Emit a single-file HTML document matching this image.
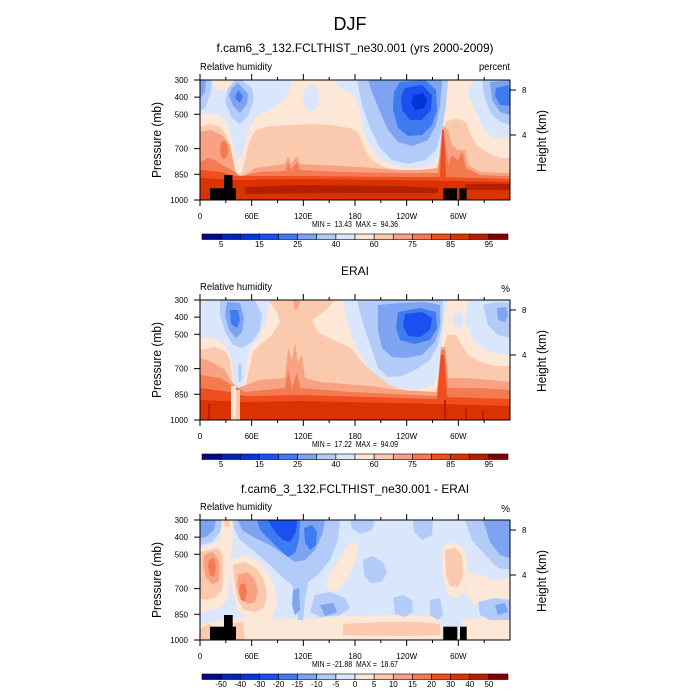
<!DOCTYPE html>
<html><head><meta charset="utf-8">
<style>
html,body{margin:0;padding:0;background:#fff;width:700px;height:700px;overflow:hidden}
svg{display:block}
text{font-family:"Liberation Sans",sans-serif;fill:#000}
</style></head>
<body>
<svg width="700" height="700" viewBox="0 0 700 700" xmlns="http://www.w3.org/2000/svg">
<defs>
<clipPath id="cp"><rect x="0" y="0" width="310" height="120"/></clipPath>
<g id="ax">
<rect x="0" y="0" width="310" height="120" fill="none" stroke="#000" stroke-width="1"/>
<path stroke="#000" stroke-width="1" fill="none" d="M0 120v6M51.67 120v6M103.33 120v6M155 120v6M206.67 120v6M258.33 120v6M25.83 120v3M77.5 120v3M129.17 120v3M180.83 120v3M232.5 120v3M284.17 120v3M0 0v-6M51.67 0v-6M103.33 0v-6M155 0v-6M206.67 0v-6M258.33 0v-6M25.83 0v-3M77.5 0v-3M129.17 0v-3M180.83 0v-3M232.5 0v-3M284.17 0v-3M0 0h-6M0 17.14h-6M0 34.29h-6M0 68.57h-6M0 94.29h-6M0 120h-6M310 10h6M310 55h6"/>
</g>
<g id="cb" stroke="#000" stroke-width="0.6">
<rect x="202" y="0" width="19.125" height="5.5" fill="#050a87"/>
<rect x="221.125" y="0" width="19.125" height="5.5" fill="#0026b5"/>
<rect x="240.25" y="0" width="19.125" height="5.5" fill="#0036d9"/>
<rect x="259.375" y="0" width="19.125" height="5.5" fill="#1c4ff0"/>
<rect x="278.5" y="0" width="19.125" height="5.5" fill="#3f7bf0"/>
<rect x="297.625" y="0" width="19.125" height="5.5" fill="#7ea3f1"/>
<rect x="316.75" y="0" width="19.125" height="5.5" fill="#b2cbf8"/>
<rect x="335.875" y="0" width="19.125" height="5.5" fill="#d9e6fb"/>
<rect x="355" y="0" width="19.125" height="5.5" fill="#fde7d6"/>
<rect x="374.125" y="0" width="19.125" height="5.5" fill="#fbc9ad"/>
<rect x="393.25" y="0" width="19.125" height="5.5" fill="#f8a283"/>
<rect x="412.375" y="0" width="19.125" height="5.5" fill="#f47a52"/>
<rect x="431.5" y="0" width="19.125" height="5.5" fill="#f04d20"/>
<rect x="450.625" y="0" width="19.125" height="5.5" fill="#db3300"/>
<rect x="469.75" y="0" width="19.125" height="5.5" fill="#b41f00"/>
<rect x="488.875" y="0" width="19.125" height="5.5" fill="#800000"/>
</g>
</defs>

<rect width="700" height="700" fill="#fff"/>

<text x="350" y="30" font-size="18" text-anchor="middle">DJF</text>

<!-- ================= PANEL 1 ================= -->
<text x="355" y="52" font-size="12" text-anchor="middle" textLength="277" lengthAdjust="spacingAndGlyphs">f.cam6_3_132.FCLTHIST_ne30.001 (yrs 2000-2009)</text>
<text x="200" y="70" font-size="10" textLength="72" lengthAdjust="spacingAndGlyphs">Relative humidity</text>
<text x="510" y="70" font-size="10" text-anchor="end" textLength="31" lengthAdjust="spacingAndGlyphs">percent</text>

<g transform="translate(200,80)">
<g clip-path="url(#cp)">
<rect x="0" y="0" width="310" height="120" fill="#fde7d6"/>
<polygon fill="#d9e6fb" points="0,0 92,0 88,14 80,24 68,30 57,36 50,45 46,60 42,76 38,80 35,75 32,60 28,45 22,37 12,33 0,34"/>
<ellipse cx="22" cy="2" rx="9" ry="9" fill="#fde7d6"/>
<ellipse cx="111" cy="18" rx="8" ry="13" fill="#d9e6fb"/>
<polygon fill="#d9e6fb" points="135,0 247,0 246,10 244,30 243,50 241,70 235,82 222,88 205,88 188,83 176,75 168,62 163,48 160,30 156,18 150,12 140,8"/>
<polygon fill="#d9e6fb" points="273,0 310,0 310,57 305,58 292,58 283,47 275,30 268,13"/>
<polygon fill="#fbc9ad" points="0,47 10,44 20,47 26,55 30,70 34,88 38,96 42,92 46,75 50,60 56,50 70,46 90,45 110,44 130,45 150,48 158,52 162,62 166,72 172,80 182,86 200,92 220,93 235,90 240,80 242,55 246,42 256,38 266,42 271,55 277,66 290,74 300,78 310,78 310,120 0,120"/>
<polygon fill="#f8a283" points="0,52 10,50 22,55 30,65 34,85 37,98 40,100 45,95 55,88 70,86 85,84 88,76 91,84 97,76 100,84 120,85 160,87 200,90 220,90 238,88 241,60 243,46 248,50 252,65 258,70 265,70 268,85 280,92 310,93 310,120 0,120"/>
<ellipse cx="24" cy="70" rx="4" ry="9" fill="#f47a52"/>
<polygon fill="#f47a52" points="0,82 8,78 15,80 22,85 28,88 35,92 40,96 60,92 86,91 88,82 91,90 97,82 100,90 140,92 200,93 238,93 242,60 245,60 248,85 252,75 258,80 262,72 266,88 280,95 310,96 310,120 0,120"/>
<polygon fill="#f04d20" points="0,90 20,92 35,96 50,96 100,96 200,97 240,97 242,50 244,50 246,97 310,99 310,120 0,120"/>
<polygon fill="#db3300" points="0,98 40,100 100,99 200,100 310,102 310,120 0,120"/>
<polygon fill="#b41f00" points="45,107 100,105 200,106 238,108 238,113 150,113 45,114"/>
<polygon fill="#b41f00" points="265,104 310,104 310,110 265,110"/>
<!-- blues -->
<polygon fill="#b2cbf8" points="0,0 12,0 10,15 5,28 0,30"/>
<polygon fill="#7ea3f1" points="0,0 6,0 5,12 0,18"/>
<polygon fill="#b2cbf8" points="38,-2 52,8 54,20 48,36 40,44 32,38 25,22 28,8"/>
<polygon fill="#7ea3f1" points="38,3 48,14 47,24 40,33 33,26 29,16 32,8"/>
<polygon fill="#3f7bf0" points="38,10 43,16 40,23 35,18"/>
<polygon fill="#b2cbf8" points="157,0 248,0 246,25 242,50 236,70 225,80 208,84 192,80 180,68 170,48 162,25"/>
<polygon fill="#7ea3f1" points="168,0 242,0 240,25 236,45 228,60 212,66 198,62 188,50 180,32 172,12"/>
<polygon fill="#3f7bf0" points="200,2 225,0 236,10 237,30 232,45 222,55 208,56 198,48 193,30 194,12"/>
<polygon fill="#1c4ff0" points="205,8 222,5 232,15 231,30 222,40 210,40 202,30 201,17"/>
<polygon fill="#0036d9" points="214,15 223,13 227,20 224,28 215,30 211,23"/>
<polygon fill="#b2cbf8" points="282,0 310,0 310,45 300,42 290,32 284,15"/>
<polygon fill="#7ea3f1" points="290,2 310,0 310,35 300,32 292,20"/>
<polygon fill="#3f7bf0" points="296,8 308,5 310,10 310,26 300,25 295,16"/>
</g>
<use href="#ax"/>
</g>
<!-- topography -->
<rect x="210" y="188.3" width="26" height="11.7" fill="#000"/>
<rect x="224" y="175" width="8.5" height="14" fill="#000"/>
<rect x="443.3" y="188.3" width="13.7" height="11.7" fill="#000"/>
<rect x="459.5" y="188.3" width="7.2" height="11.7" fill="#000"/>

<g font-size="8">
<text x="188" y="83" text-anchor="end">300</text>
<text x="188" y="100.1" text-anchor="end">400</text>
<text x="188" y="117.3" text-anchor="end">500</text>
<text x="188" y="151.6" text-anchor="end">700</text>
<text x="188" y="177.3" text-anchor="end">850</text>
<text x="188" y="203" text-anchor="end">1000</text>
<text x="522" y="93">8</text>
<text x="522" y="138">4</text>
<text x="200" y="219" text-anchor="middle">0</text>
<text x="251.7" y="219" text-anchor="middle">60E</text>
<text x="303.3" y="219" text-anchor="middle">120E</text>
<text x="355" y="219" text-anchor="middle">180</text>
<text x="406.7" y="219" text-anchor="middle">120W</text>
<text x="458.3" y="219" text-anchor="middle">60W</text>
<text x="355" y="227" text-anchor="middle" textLength="86" lengthAdjust="spacingAndGlyphs" xml:space="preserve">MIN =  13.43  MAX =  94.36</text>
<text x="221.1" y="247" text-anchor="middle">5</text>
<text x="259.4" y="247" text-anchor="middle">15</text>
<text x="297.6" y="247" text-anchor="middle">25</text>
<text x="335.9" y="247" text-anchor="middle">40</text>
<text x="374.1" y="247" text-anchor="middle">60</text>
<text x="412.4" y="247" text-anchor="middle">75</text>
<text x="450.6" y="247" text-anchor="middle">85</text>
<text x="488.9" y="247" text-anchor="middle">95</text>
</g>
<text transform="translate(161,140) rotate(-90)" font-size="13" text-anchor="middle" textLength="76" lengthAdjust="spacingAndGlyphs">Pressure (mb)</text>
<text transform="translate(546,141) rotate(-90)" font-size="13" text-anchor="middle" textLength="62" lengthAdjust="spacingAndGlyphs">Height (km)</text>
<use href="#cb" transform="translate(0,234)"/>

<!-- ================= PANEL 2 ================= -->
<text x="355" y="275" font-size="12" text-anchor="middle">ERAI</text>
<text x="200" y="290" font-size="10" textLength="72" lengthAdjust="spacingAndGlyphs">Relative humidity</text>
<text x="510" y="292" font-size="10" text-anchor="end">%</text>

<g transform="translate(200,300)">
<g clip-path="url(#cp)">
<rect x="0" y="0" width="310" height="120" fill="#fde7d6"/>
<polygon fill="#d9e6fb" points="0,0 70,0 68,10 65,25 57,40 50,48 47,60 45,75 42,88 38,92 35,85 33,70 30,55 25,45 18,40 8,37 0,38"/>
<polygon fill="#d9e6fb" points="143,0 247,0 244,20 242,40 240,67 233,85 217,90 193,87 177,77 163,60 153,40 147,20"/>
<ellipse cx="258" cy="20" rx="5" ry="8" fill="#d9e6fb"/>
<polygon fill="#d9e6fb" points="268,0 310,0 310,55 290,52 275,42 265,22"/>
<polygon fill="#fbc9ad" points="0,50 15,47 25,51 30,60 32,80 35,100 42,98 46,85 50,65 53,52 60,45 72,35 80,22 76,10 68,0 135,0 126,10 112,20 118,32 133,40 147,46 153,50 158,58 165,65 175,74 190,85 210,92 235,92 240,80 243,50 247,35 256,35 262,45 268,55 280,62 295,66 310,66 310,120 0,120"/>
<polygon fill="#f8a283" points="93,0 100,0 98,8 95,10"/>
<polygon fill="#f8a283" points="0,58 12,62 25,70 30,80 38,88 48,84 60,80 85,78 88,48 92,60 95,43 98,62 102,55 105,78 120,82 170,86 200,90 237,92 241,47 245,47 248,78 265,78 290,80 310,82 310,120 0,120"/>
<polygon fill="#f47a52" points="0,75 20,78 30,84 45,92 85,88 88,70 92,88 97,72 100,88 150,92 237,96 241,50 245,50 248,88 280,88 310,90 310,120 0,120"/>
<polygon fill="#f04d20" points="0,88 30,92 45,96 100,95 237,99 241,55 244,55 247,97 310,99 310,120 0,120"/>
<polygon fill="#db3300" points="0,100 45,102 100,101 240,104 310,106 310,120 0,120"/>
<rect x="8" y="104" width="2" height="16" fill="#b41f00"/>
<rect x="244" y="100" width="2" height="20" fill="#b41f00"/>
<rect x="265" y="108" width="2" height="12" fill="#b41f00"/>
<rect x="282" y="110" width="2" height="10" fill="#b41f00"/>
<rect x="31" y="86" width="5" height="34" fill="#fde7d6"/>
<rect x="36" y="90" width="4" height="30" fill="#fbc9ad"/>
<!-- blues -->
<polygon fill="#b2cbf8" points="20,0 55,0 62,15 60,30 52,42 42,48 33,45 25,32 20,15"/>
<polygon fill="#7ea3f1" points="27,2 40,3 44,18 42,32 36,38 29,30 25,15"/>
<polygon fill="#3f7bf0" points="30,10 38,10 40,20 37,28 31,24"/>
<polygon fill="#b2cbf8" points="38,65 41,64 42,80 39,82"/>
<polygon fill="#b2cbf8" points="157,0 243,0 242,25 238,45 230,60 215,70 202,76 188,77 178,68 172,50 165,30 160,12"/>
<polygon fill="#7ea3f1" points="178,5 200,3 225,2 240,5 240,25 235,42 222,55 205,58 192,57 182,48 178,30"/>
<polygon fill="#3f7bf0" points="198,12 220,8 236,12 237,28 230,40 215,44 200,40 196,28"/>
<polygon fill="#1c4ff0" points="205,14 222,12 232,18 230,30 220,37 208,36 203,26"/>
<polygon fill="#b2cbf8" points="283,5 295,2 310,3 310,38 298,35 288,25"/>
<polygon fill="#7ea3f1" points="297,8 306,7 308,15 305,22 298,20"/>
</g>
<use href="#ax"/>
</g>

<g font-size="8">
<text x="188" y="303" text-anchor="end">300</text>
<text x="188" y="320.1" text-anchor="end">400</text>
<text x="188" y="337.3" text-anchor="end">500</text>
<text x="188" y="371.6" text-anchor="end">700</text>
<text x="188" y="397.3" text-anchor="end">850</text>
<text x="188" y="423" text-anchor="end">1000</text>
<text x="522" y="313">8</text>
<text x="522" y="358">4</text>
<text x="200" y="439" text-anchor="middle">0</text>
<text x="251.7" y="439" text-anchor="middle">60E</text>
<text x="303.3" y="439" text-anchor="middle">120E</text>
<text x="355" y="439" text-anchor="middle">180</text>
<text x="406.7" y="439" text-anchor="middle">120W</text>
<text x="458.3" y="439" text-anchor="middle">60W</text>
<text x="355" y="447" text-anchor="middle" textLength="86" lengthAdjust="spacingAndGlyphs" xml:space="preserve">MIN =  17.22  MAX =  94.09</text>
<text x="221.1" y="467" text-anchor="middle">5</text>
<text x="259.4" y="467" text-anchor="middle">15</text>
<text x="297.6" y="467" text-anchor="middle">25</text>
<text x="335.9" y="467" text-anchor="middle">40</text>
<text x="374.1" y="467" text-anchor="middle">60</text>
<text x="412.4" y="467" text-anchor="middle">75</text>
<text x="450.6" y="467" text-anchor="middle">85</text>
<text x="488.9" y="467" text-anchor="middle">95</text>
</g>
<text transform="translate(161,360) rotate(-90)" font-size="13" text-anchor="middle" textLength="76" lengthAdjust="spacingAndGlyphs">Pressure (mb)</text>
<text transform="translate(546,361) rotate(-90)" font-size="13" text-anchor="middle" textLength="62" lengthAdjust="spacingAndGlyphs">Height (km)</text>
<use href="#cb" transform="translate(0,454)"/>

<!-- ================= PANEL 3 ================= -->
<text x="355" y="493" font-size="12" text-anchor="middle" textLength="228" lengthAdjust="spacingAndGlyphs">f.cam6_3_132.FCLTHIST_ne30.001 - ERAI</text>
<text x="200" y="510" font-size="10" textLength="72" lengthAdjust="spacingAndGlyphs">Relative humidity</text>
<text x="510" y="512" font-size="10" text-anchor="end">%</text>

<g transform="translate(200,520)">
<g clip-path="url(#cp)">
<rect x="0" y="0" width="310" height="120" fill="#d9e6fb"/>
<!-- peach -->
<polygon fill="#fde7d6" points="0,28 10,25 20,20 22,0 32,0 33,20 31,40 30,60 27,80 20,88 10,90 0,92"/>
<polygon fill="#fde7d6" points="30,40 45,35 60,42 70,55 76,70 77,85 72,98 60,100 45,98 38,90 33,75 31,60"/>
<polygon fill="#fde7d6" points="150,22 158,25 156,40 150,55 142,68 132,72 126,66 130,52 140,38"/>
<polygon fill="#fde7d6" points="243,25 255,22 265,30 268,50 265,70 258,78 248,75 244,60 242,42"/>
<polygon fill="#fde7d6" points="265,50 280,55 295,60 310,58 310,90 290,92 275,85 266,75"/>
<polygon fill="#fde7d6" points="0,105 20,100 40,98 80,99 120,98 150,96 200,95 240,97 243,120 0,120"/>
<polygon fill="#fde7d6" points="262,100 280,97 310,96 310,120 262,120"/>
<!-- salmon -->
<polygon fill="#fbc9ad" points="0,32 8,30 18,28 23,35 23,55 22,70 15,78 5,80 0,78"/>
<polygon fill="#fbc9ad" points="33,45 45,42 56,48 64,60 67,75 64,88 55,92 44,90 38,80 35,65"/>
<polygon fill="#fbc9ad" points="245,30 255,28 262,35 263,55 258,67 250,66 246,55"/>
<polygon fill="#fbc9ad" points="143,104 180,102 220,102 240,104 240,115 200,116 143,115"/>
<polygon fill="#fbc9ad" points="0,108 10,104 12,120 0,120"/>
<polygon fill="#fbc9ad" points="33,103 43,102 45,120 33,120"/>
<polygon fill="#fbc9ad" points="24,0 30,0 29,7 25,7"/>
<!-- orange -->
<polygon fill="#f8a283" points="4,35 12,32 18,38 20,50 18,62 12,64 6,58 3,45"/>
<polygon fill="#f8a283" points="38,55 48,52 55,60 58,72 55,82 48,84 40,78 37,65"/>
<polygon fill="#f47a52" points="9,40 14,38 16,48 14,57 10,55 8,47"/>
<polygon fill="#f47a52" points="40,65 45,63 47,72 45,82 41,80 39,72"/>
<!-- blues -->
<polygon fill="#b2cbf8" points="0,0 22,0 20,12 12,22 0,25"/>
<polygon fill="#b2cbf8" points="33,0 140,0 138,20 130,40 118,55 108,62 105,80 103,100 98,100 96,80 92,65 80,55 70,45 55,32 40,20 34,8"/>
<polygon fill="#b2cbf8" points="150,0 175,0 172,10 160,14 152,8"/>
<polygon fill="#b2cbf8" points="163,40 172,36 183,42 187,52 182,62 170,63 164,55"/>
<polygon fill="#b2cbf8" points="193,78 203,75 212,80 213,92 205,97 195,94"/>
<polygon fill="#b2cbf8" points="213,0 233,0 232,15 222,20 214,12"/>
<polygon fill="#b2cbf8" points="265,0 310,0 310,50 298,48 285,35 272,20"/>
<polygon fill="#b2cbf8" points="115,75 130,72 145,78 150,88 140,95 120,97 110,92"/>
<polygon fill="#b2cbf8" points="278,82 295,78 310,80 310,100 290,100 280,95"/>
<polygon fill="#b2cbf8" points="230,80 240,78 243,95 238,100 230,95"/>
<polygon fill="#7ea3f1" points="0,0 16,0 14,10 6,17 0,18"/>
<polygon fill="#7ea3f1" points="38,0 125,0 122,15 115,30 105,40 95,42 85,35 70,25 55,18 42,10"/>
<polygon fill="#7ea3f1" points="283,0 310,0 310,38 300,35 290,22"/>
<polygon fill="#7ea3f1" points="120,85 133,83 137,92 125,96"/>
<polygon fill="#7ea3f1" points="93,70 99,68 100,90 95,95 92,85"/>
<polygon fill="#7ea3f1" points="295,85 305,83 308,92 298,95"/>
<polygon fill="#3f7bf0" points="57,0 100,0 99,20 95,33 88,37 80,30 70,20 60,10"/>
<polygon fill="#3f7bf0" points="104,8 112,5 117,12 116,25 110,30 105,22"/>
<polygon fill="#1c4ff0" points="68,0 97,0 96,12 90,22 83,20 75,12"/>
</g>
<use href="#ax"/>
</g>
<rect x="210" y="626.7" width="26" height="13.3" fill="#000"/>
<rect x="224" y="615" width="8.7" height="12" fill="#000"/>
<rect x="443.3" y="626.7" width="14" height="13.3" fill="#000"/>
<rect x="460" y="626.7" width="6.7" height="13.3" fill="#000"/>

<g font-size="8">
<text x="188" y="523" text-anchor="end">300</text>
<text x="188" y="540.1" text-anchor="end">400</text>
<text x="188" y="557.3" text-anchor="end">500</text>
<text x="188" y="591.6" text-anchor="end">700</text>
<text x="188" y="617.3" text-anchor="end">850</text>
<text x="188" y="643" text-anchor="end">1000</text>
<text x="522" y="533">8</text>
<text x="522" y="578">4</text>
<text x="200" y="659" text-anchor="middle">0</text>
<text x="251.7" y="659" text-anchor="middle">60E</text>
<text x="303.3" y="659" text-anchor="middle">120E</text>
<text x="355" y="659" text-anchor="middle">180</text>
<text x="406.7" y="659" text-anchor="middle">120W</text>
<text x="458.3" y="659" text-anchor="middle">60W</text>
<text x="355" y="667" text-anchor="middle" textLength="86" lengthAdjust="spacingAndGlyphs" xml:space="preserve">MIN = -21.88  MAX =  18.67</text>
<text x="221.1" y="687" text-anchor="middle">-50</text>
<text x="240.3" y="687" text-anchor="middle">-40</text>
<text x="259.4" y="687" text-anchor="middle">-30</text>
<text x="278.5" y="687" text-anchor="middle">-20</text>
<text x="297.6" y="687" text-anchor="middle">-15</text>
<text x="316.8" y="687" text-anchor="middle">-10</text>
<text x="335.9" y="687" text-anchor="middle">-5</text>
<text x="355" y="687" text-anchor="middle">0</text>
<text x="374.1" y="687" text-anchor="middle">5</text>
<text x="393.3" y="687" text-anchor="middle">10</text>
<text x="412.4" y="687" text-anchor="middle">15</text>
<text x="431.5" y="687" text-anchor="middle">20</text>
<text x="450.6" y="687" text-anchor="middle">30</text>
<text x="469.8" y="687" text-anchor="middle">40</text>
<text x="488.9" y="687" text-anchor="middle">50</text>
</g>
<text transform="translate(161,580) rotate(-90)" font-size="13" text-anchor="middle" textLength="76" lengthAdjust="spacingAndGlyphs">Pressure (mb)</text>
<text transform="translate(546,581) rotate(-90)" font-size="13" text-anchor="middle" textLength="62" lengthAdjust="spacingAndGlyphs">Height (km)</text>
<use href="#cb" transform="translate(0,674)"/>
</svg>
</body></html>
